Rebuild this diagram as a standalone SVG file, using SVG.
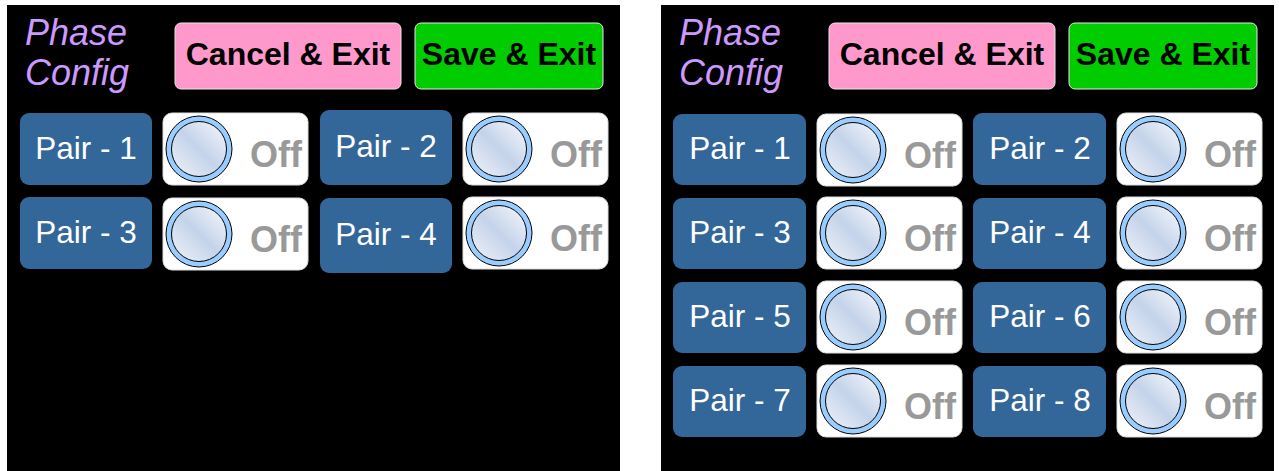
<svg xmlns="http://www.w3.org/2000/svg" width="1279" height="471" viewBox="0 0 1279 471">
<defs>
<linearGradient id="knob" x1="0" y1="1" x2="1" y2="0">
<stop offset="0" stop-color="#f0f3f8"/>
<stop offset="0.5" stop-color="#c4d3ea"/>
<stop offset="1" stop-color="#f8f9fc"/>
</linearGradient>
<g id="toggle">
<rect x="0" y="0" width="145" height="72" rx="9" fill="#ffffff" stroke="#dddddd" stroke-width="1"/>
<circle cx="36" cy="36" r="33" fill="#99ccff" stroke="#000" stroke-width="1"/>
<circle cx="36" cy="36" r="27.5" fill="url(#knob)" stroke="#000" stroke-width="1"/>
<text x="139" y="54" class="off">Off</text>
</g>
</defs>
<style>
.panel{fill:#000}
.title{font-family:"Liberation Sans",Arial,sans-serif;font-style:italic;font-size:36px;fill:#cc99ff}
.btn{font-family:"Liberation Sans",Arial,sans-serif;font-weight:bold;font-size:32px;fill:#000;text-anchor:middle}
.pair rect{fill:#336699}
.pair text{font-family:"Liberation Sans",Arial,sans-serif;font-size:31.5px;fill:#fff;text-anchor:middle}
.off{font-family:"Liberation Sans",Arial,sans-serif;font-weight:bold;font-size:36px;fill:#999999;text-anchor:end}
</style>
<rect width="1279" height="471" fill="#fff"/>

<!-- Left panel -->
<g id="left-panel">
<rect class="panel" x="7" y="5" width="613" height="466"/>
<g id="L-title"><text class="title" x="25" y="45">Phase</text><text class="title" x="25" y="85">Config</text></g>
<g id="L-cancel"><rect x="175" y="23" width="226" height="66" rx="6" fill="#ff99cc" stroke="#e6e6e6"/><text class="btn" x="288" y="65">Cancel &amp; Exit</text></g>
<g id="L-save"><rect x="415" y="23" width="188" height="66" rx="6" fill="#00cc00" stroke="#e6e6e6"/><text class="btn" x="509" y="65">Save &amp; Exit</text></g>
<g id="L-pair1" class="pair"><rect x="20" y="113" width="132" height="72" rx="9"/><text x="86" y="159">Pair - 1</text></g>
<g id="L-toggle1"><use href="#toggle" x="163" y="113"/></g>
<g id="L-pair2" class="pair"><rect x="320" y="110" width="132" height="75" rx="9"/><text x="386" y="157">Pair - 2</text></g>
<g id="L-toggle2"><use href="#toggle" x="463" y="113"/></g>
<g id="L-pair3" class="pair"><rect x="20" y="197" width="132" height="72" rx="9"/><text x="86" y="243">Pair - 3</text></g>
<g id="L-toggle3"><use href="#toggle" x="163" y="198"/></g>
<g id="L-pair4" class="pair"><rect x="320" y="198" width="132" height="75" rx="9"/><text x="386" y="245">Pair - 4</text></g>
<g id="L-toggle4"><use href="#toggle" x="463" y="197"/></g>
</g>

<!-- Right panel -->
<g id="right-panel">
<rect class="panel" x="661" y="5" width="613" height="466"/>
<g id="R-title"><text class="title" x="679" y="45">Phase</text><text class="title" x="679" y="85">Config</text></g>
<g id="R-cancel"><rect x="829" y="23" width="226" height="66" rx="6" fill="#ff99cc" stroke="#e6e6e6"/><text class="btn" x="942" y="65">Cancel &amp; Exit</text></g>
<g id="R-save"><rect x="1069" y="23" width="188" height="66" rx="6" fill="#00cc00" stroke="#e6e6e6"/><text class="btn" x="1163" y="65">Save &amp; Exit</text></g>
<g id="R-pair1" class="pair"><rect x="673" y="114" width="133" height="71" rx="9"/><text x="740" y="159">Pair - 1</text></g>
<g id="R-toggle1"><use href="#toggle" x="817" y="114"/></g>
<g id="R-pair2" class="pair"><rect x="973" y="113" width="133" height="72" rx="9"/><text x="1040" y="159">Pair - 2</text></g>
<g id="R-toggle2"><use href="#toggle" x="1117" y="113"/></g>
<g id="R-pair3" class="pair"><rect x="673" y="198" width="133" height="71" rx="9"/><text x="740" y="243">Pair - 3</text></g>
<g id="R-toggle3"><use href="#toggle" x="817" y="197"/></g>
<g id="R-pair4" class="pair"><rect x="973" y="198" width="133" height="71" rx="9"/><text x="1040" y="243">Pair - 4</text></g>
<g id="R-toggle4"><use href="#toggle" x="1117" y="197"/></g>
<g id="R-pair5" class="pair"><rect x="673" y="282" width="133" height="71" rx="9"/><text x="740" y="327">Pair - 5</text></g>
<g id="R-toggle5"><use href="#toggle" x="817" y="281"/></g>
<g id="R-pair6" class="pair"><rect x="973" y="282" width="133" height="71" rx="9"/><text x="1040" y="327">Pair - 6</text></g>
<g id="R-toggle6"><use href="#toggle" x="1117" y="281"/></g>
<g id="R-pair7" class="pair"><rect x="673" y="366" width="133" height="71" rx="9"/><text x="740" y="411">Pair - 7</text></g>
<g id="R-toggle7"><use href="#toggle" x="817" y="365"/></g>
<g id="R-pair8" class="pair"><rect x="973" y="366" width="133" height="71" rx="9"/><text x="1040" y="411">Pair - 8</text></g>
<g id="R-toggle8"><use href="#toggle" x="1117" y="365"/></g>
</g>
</svg>
